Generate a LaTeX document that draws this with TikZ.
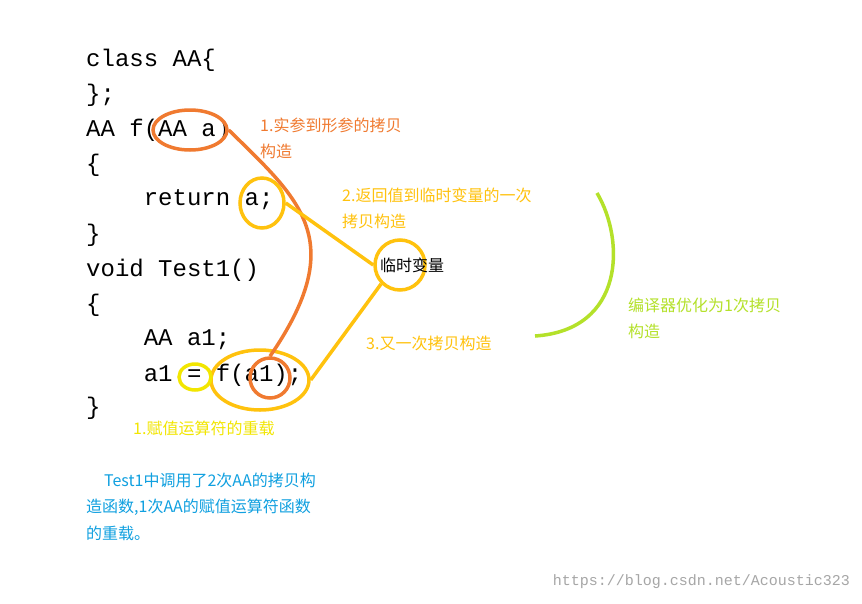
\documentclass[tikz,border=0pt]{standalone}
\usepackage{fontspec}
\usetikzlibrary{shapes.geometric}
\setmonofont{Liberation Mono}
\newfontfamily\cjk{Noto Sans CJK SC}
\definecolor{org}{HTML}{F07A30}
\definecolor{yor}{HTML}{FFC20E}
\definecolor{ylw}{HTML}{F2E600}
\definecolor{grn}{HTML}{B4E12A}
\definecolor{blu}{HTML}{10A0E0}
\tikzset{code/.style={anchor=west,inner sep=0,font=\ttfamily\fontsize{24}{24}\selectfont},
lab/.style={anchor=west,inner sep=0,font=\cjk\fontsize{16}{16}\selectfont},
ring/.style={draw,line width=3.5pt},
link/.style={line width=3.5pt}}
\begin{document}
\begin{tikzpicture}[x=1pt,y=-1pt]
\useasboundingbox (0,0) rectangle (862,603);
\fill[white] (0,0) rectangle (862,603);
\node[code] (l1) at (86,60) {class AA\{};
\node[code] (l2) at (86,95) {\};};
\node[code] (l3) at (86,130) {AA f(AA a)};
\node[code] (l4) at (86,165) {\{};
\node[code] (l5) at (86,200) {\ \ \ \ return a;};
\node[code] (l6) at (86,235) {\}};
\node[code] (l7) at (86,270) {void Test1()};
\node[code] (l8) at (86,305) {\{};
\node[code] (l9) at (86,340) {\ \ \ \ AA a1;};
\node[code] (l10) at (86,375) {\ \ \ \ a1 = f(a1);};
\node[code] (l11) at (86,408) {\}};
\node[ring,org,ellipse,minimum width=74,minimum height=40] (e1) at (190,130) {};
\node[ring,yor,ellipse,minimum width=44,minimum height=50] (e2) at (262,203) {};
\node[ring,yor,circle,minimum size=50] (e3) at (400,265) {};
\node[ring,yor,ellipse,minimum width=98,minimum height=60] (e4) at (260,380) {};
\node[ring,org,circle,minimum size=40] (e5) at (270,378) {};
\node[ring,ylw,ellipse,minimum width=32,minimum height=26] (e6) at (195,377) {};
\node[lab,org] (t1) at (260,125) {1.实参到形参的拷贝};
\node[lab,org] (t1b) at (260,151) {构造};
\node[lab,yor] (t2) at (342,195) {2.返回值到临时变量的一次};
\node[lab,yor] (t2b) at (342,221) {拷贝构造};
\node[lab,black] (t3) at (380,265) {临时变量};
\node[lab,yor] (t4) at (366,343) {3.又一次拷贝构造};
\node[lab,grn] (t5) at (628,305) {编译器优化为1次拷贝};
\node[lab,grn] (t5b) at (628,331) {构造};
\node[lab,ylw] (t6) at (133,428) {1.赋值运算符的重载};
\node[lab,blu] (t7) at (104,480) {Test1中调用了2次AA的拷贝构};
\node[lab,blu] (t7b) at (86,507) {造函数,1次AA的赋值运算符函数};
\node[lab,blu] (t7c) at (86,533) {的重载。};
\node[anchor=east,inner sep=0,text=gray!70,font=\ttfamily\fontsize{15}{15}\selectfont] (wm) at (850,582) {https://blog.csdn.net/Acoustic323};
\coordinate (g1) at (597,193);
\coordinate (g2) at (535,336);
\draw[link,org] (e1.east) .. controls (300,200) and (350,240) .. (e5.north);
\draw[link,yor] (e2.east) -- (e3.west);
\draw[link,yor] (e3.south west) -- (e4.east);
\draw[link,grn] (g1) .. controls (625,240) and (625,330) .. (g2);
\end{tikzpicture}
\end{document}
